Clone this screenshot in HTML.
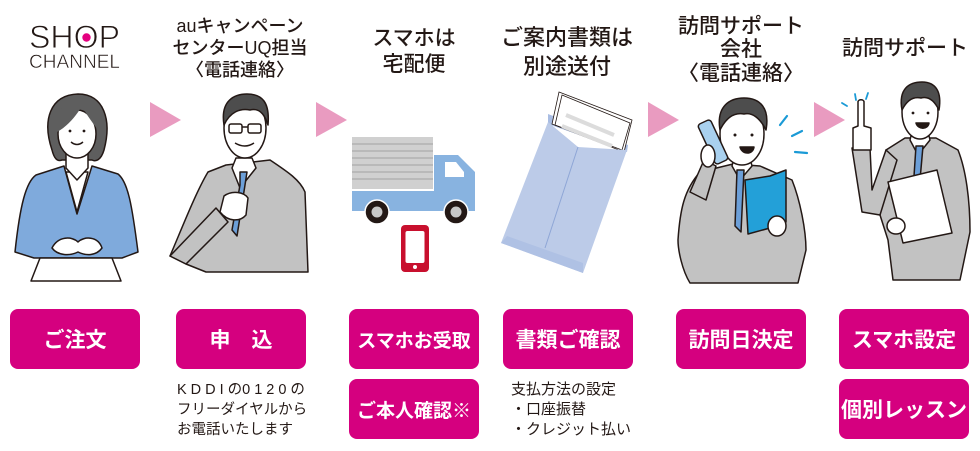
<!DOCTYPE html>
<html><head><meta charset="utf-8"><style>
html,body{margin:0;padding:0;background:#fff;}
body{width:980px;height:451px;position:relative;overflow:hidden;font-family:"Liberation Sans","Noto Sans CJK JP",sans-serif;color:#231815;}
.h{position:absolute;text-align:center;font-weight:500;white-space:nowrap;font-family:"Liberation Sans","Noto Sans CJK JP",sans-serif;}
.b{position:absolute;width:130px;height:60px;background:#d5007f;border-radius:8px;color:#fff;font-weight:bold;font-size:21px;display:flex;align-items:center;justify-content:center;white-space:nowrap;font-family:"Liberation Sans","Noto Sans CJK JP",sans-serif;}
.t{position:absolute;font-size:14.5px;line-height:20px;white-space:nowrap;font-family:"Liberation Sans","Noto Sans CJK JP",sans-serif;}
svg{position:absolute;left:0;top:0;}
</style></head><body>
<svg width="980" height="451" viewBox="0 0 980 451">
<!-- logo -->
<text x="29" y="48" font-family="Liberation Sans" font-size="32" fill="#231815" stroke="#fff" stroke-width="0.9" textLength="91" lengthAdjust="spacingAndGlyphs">SHOP</text>
<circle cx="86.5" cy="37.5" r="4.2" fill="#e4007f"/>
<text x="29" y="68" font-family="Liberation Sans" font-size="19" fill="#231815" stroke="#fff" stroke-width="0.5" textLength="91" lengthAdjust="spacingAndGlyphs">CHANNEL</text>

<!-- arrows -->
<g fill="#e99bc0">
<polygon points="150,102 181,120 150,137"/>
<polygon points="316,102 347,120 316,137"/>
<polygon points="648,102 679,120 648,137"/>
<polygon points="814,102 845,120 814,137"/>
</g>

<!-- woman -->
<g stroke="#231815" stroke-width="1.5" stroke-linejoin="round">
<path d="M52,150 C42,120 50,95 78,94 C104,94 112,120 104,150 C101,160 96,162 92,160 L62,160 C57,162 54,158 52,150Z" fill="#5e5e5e"/>
<path d="M36,175 L64,166 L77,214 L92,166 L118,174 C128,182 132,205 138,252 L122,258 L34,258 L15,252 C20,205 26,182 36,175Z" fill="#7faadc"/>
<path d="M66,172 L88,172 L77,212Z" fill="#fff"/>
<path d="M66,150 L66,168 L77,180 L88,168 L88,150Z" fill="#fff"/>
<ellipse cx="77" cy="134" rx="19" ry="24" fill="#fff"/>
<path d="M57,132 C55,110 66,100 78,100 C92,100 100,110 98,130 C92,122 86,114 82,106 C76,116 68,126 57,132Z" fill="#5e5e5e" stroke="none"/>
<path d="M40,258 L112,258 L121,281 L31,281Z" fill="#fff"/>
<path d="M52,248 C58,236 72,236 78,242 C84,236 98,236 102,248 C96,256 86,256 78,252 C70,256 58,256 52,248Z" fill="#fff"/>
<path d="M71,142 Q77,147 83,142" fill="none"/>
</g>
<circle cx="70" cy="131" r="1.4" fill="#231815"/><circle cx="84" cy="131" r="1.4" fill="#231815"/>

<!-- man 1 -->
<g stroke="#231815" stroke-width="1.5" stroke-linejoin="round">
<path d="M226,165 L208,172 C196,192 182,228 170,256 L186,264 L206,272 L308,272 L305,192 C300,180 288,172 270,160 Z" fill="#c2c2c2"/>
<path d="M232,168 L240,188 L256,168 L252,158 L236,158Z" fill="#fff"/>
<path d="M240,172 L247,172 L245,185 L237,236 L232,230 L240,185Z" fill="#6c9fd8"/>
<ellipse cx="245" cy="128" rx="21" ry="30" fill="#fff"/>
<path d="M224,125 C220,100 235,94 247,94 C262,94 270,102 268,125 C264,112 258,108 250,110 C240,108 230,112 224,125Z" fill="#4d4d4d"/>
<rect x="229" y="124" width="13" height="9" rx="2" fill="none"/>
<rect x="248" y="124" width="13" height="9" rx="2" fill="none"/>
<line x1="242" y1="127" x2="248" y2="127"/>
<path d="M235,143 Q245,149 254,143" fill="none"/>
<path d="M170,256 L186,264 L228,222 L216,208Z" fill="#c2c2c2"/>
<path d="M224,196 C232,190 244,192 248,198 L246,215 C240,222 228,222 220,212Z" fill="#fff"/>
</g>

<!-- truck -->
<rect x="352" y="137" width="81" height="52" fill="#d0d0d0"/>
<g fill="#b9b9b9">
<rect x="352" y="143" width="81" height="2"/><rect x="352" y="150" width="81" height="2"/><rect x="352" y="157" width="81" height="2"/><rect x="352" y="164" width="81" height="2"/><rect x="352" y="171" width="81" height="2"/><rect x="352" y="178" width="81" height="2"/>
</g>
<path d="M434,155 L458,155 L475,172 L475,211 L352,211 L352,191 L434,191Z" fill="#88b3e0"/>
<path d="M445,162 L456,162 L464,172 L464,177 L445,177Z" fill="#fff"/>
<circle cx="377" cy="212" r="12" fill="#231815" stroke="#fff" stroke-width="1.5"/>
<circle cx="377" cy="212" r="5.5" fill="#c8c8c8"/>
<circle cx="456" cy="212" r="12" fill="#231815" stroke="#fff" stroke-width="1.5"/>
<circle cx="456" cy="212" r="5.5" fill="#c8c8c8"/>
<rect x="401" y="225" width="28" height="47" rx="4" fill="#c8102e"/>
<rect x="405.5" y="231" width="19" height="32" rx="2" fill="#fff"/>
<circle cx="415" cy="267" r="2" fill="#fff"/>

<!-- envelope -->
<polygon points="548,114 628,145 627,152 548,124" fill="#a9bde3"/>
<polygon points="559,92 632,120 624,152 552,124" fill="#fff" stroke="#231815" stroke-width="0.8"/>
<polygon points="562,95 630,123 622,150 555,125" fill="#fff" stroke="#231815" stroke-width="0.8"/>
<line x1="566" y1="115" x2="614" y2="135" stroke="#dcdcdc" stroke-width="4"/>
<line x1="562" y1="126" x2="612" y2="146" stroke="#dcdcdc" stroke-width="4"/>
<polygon points="548,122 578,147 627,150 583,273 501,243" fill="#bccbe8"/>
<line x1="578" y1="147" x2="545" y2="248" stroke="#8ea6d6" stroke-width="1"/>
<polygon points="501,243 507,236 583,263 583,273" fill="#afc1e4"/>

<!-- man 2 -->
<g stroke="#231815" stroke-width="1.5" stroke-linejoin="round">
<path d="M700,172 L733,164 L760,166 L792,180 C800,200 806,230 806,250 L798,283 L690,283 C682,270 678,250 678,240 C680,210 684,190 700,172Z" fill="#c2c2c2"/>
<path d="M732,166 L740,180 L752,166 L750,158 L734,158Z" fill="#fff"/>
<path d="M737,170 L744,170 L741,232 L735,226Z" fill="#6c9fd8"/>
<ellipse cx="742" cy="134" rx="22" ry="31" fill="#fff"/>
<path d="M720,130 C716,106 730,98 744,98 C760,98 770,108 766,130 C760,118 752,112 744,114 C734,112 726,118 720,130Z" fill="#4d4d4d"/>
<path d="M740,147 L754,147 C753,155 742,155 740,147Z" fill="#231815"/>
<path d="M690,192 L704,160 L716,166 L706,200Z" fill="#c2c2c2"/>
<rect x="706" y="120" width="14" height="44" rx="3" transform="rotate(-25 713 142)" fill="#a9d1ef"/>
<ellipse cx="708" cy="156" rx="7" ry="11" fill="#fff"/>
<path d="M745,180 L770,176 L786,170 L786,222 L770,228 L748,234Z" fill="#23a0d8"/>
<ellipse cx="777" cy="226" rx="9" ry="10" fill="#fff"/>
</g>
<circle cx="735" cy="135" r="1.5" fill="#231815"/><circle cx="752" cy="135" r="1.5" fill="#231815"/>
<g stroke="#1a9ad6" stroke-width="2.2" stroke-linecap="round">
<line x1="780" y1="125" x2="787" y2="116"/>
<line x1="792" y1="136" x2="802" y2="131"/>
<line x1="795" y1="152" x2="807" y2="153"/>
</g>

<!-- man 3 -->
<g stroke="#231815" stroke-width="1.5" stroke-linejoin="round">
<path d="M886,150 L905,138 L936,138 L958,150 C966,170 970,200 970,232 L960,280 L893,280 L888,240 L880,215Z" fill="#c2c2c2"/>
<path d="M852,148 L870,148 L872,190 L886,150 L897,160 L880,215 L862,212Z" fill="#c2c2c2"/>
<path d="M910,140 L918,155 L930,140 L928,132 L912,132Z" fill="#fff"/>
<path d="M916,146 L923,146 L920,180 L914,176Z" fill="#6c9fd8"/>
<ellipse cx="920" cy="112" rx="18" ry="27" fill="#fff"/>
<path d="M902,110 C898,88 910,82 922,82 C936,82 942,92 939,110 C934,100 928,96 921,98 C912,96 906,102 902,110Z" fill="#4d4d4d"/>
<path d="M916,123 L929,123 C928,130 918,130 916,123Z" fill="#231815"/>
<path d="M853,128 L858,126 L858,102 C858,99 864,99 864,102 L864,126 L871,128 L871,150 L853,150Z" fill="#fff"/>
<polygon points="888,182 937,170 952,233 903,243" fill="#fff"/>
<ellipse cx="896" cy="226" rx="9" ry="8" fill="#fff"/>
</g>
<circle cx="913" cy="113" r="1.4" fill="#231815"/><circle cx="928" cy="113" r="1.4" fill="#231815"/>
<g stroke="#1a9ad6" stroke-width="1.8" stroke-linecap="round">
<line x1="842" y1="103" x2="847" y2="106"/>
<line x1="855" y1="94" x2="856" y2="100"/>
<line x1="868" y1="93" x2="866" y2="99"/>
</g>
</svg>

<!-- headers -->
<div class="h" style="left:160px;top:15px;width:160px;font-size:18px;line-height:22px;">auキャンペーン<br>センターUQ担当<br>〈電話連絡〉</div>
<div class="h" style="left:334px;top:26px;width:160px;font-size:21px;line-height:26px;">スマホは<br>宅配便</div>
<div class="h" style="left:487px;top:23px;width:160px;font-size:22px;line-height:29px;">ご案内書類は<br>別途送付</div>
<div class="h" style="left:661px;top:14.5px;width:160px;font-size:21px;line-height:23.5px;">訪問サポート<br>会社<br>〈電話連絡〉</div>
<div class="h" style="left:825px;top:36px;width:160px;font-size:21px;line-height:26px;">訪問サポート</div>

<!-- buttons -->
<div class="b" style="left:10px;top:309px;">ご注文</div>
<div class="b" style="left:176px;top:309px;">申　込</div>
<div class="b" style="left:349px;top:309px;font-size:19px;">スマホお受取</div>
<div class="b" style="left:349px;top:379px;font-size:19px;">ご本人確認※</div>
<div class="b" style="left:503px;top:309px;">書類ご確認</div>
<div class="b" style="left:676px;top:309px;">訪問日決定</div>
<div class="b" style="left:839px;top:309px;">スマホ設定</div>
<div class="b" style="left:839px;top:379px;">個別レッスン</div>

<!-- notes -->
<div class="t" style="left:177px;top:380px;"><span style="letter-spacing:4px">KDDI</span>の<span style="letter-spacing:4px">0120</span>の<br>フリーダイヤルから<br>お電話いたします</div>
<div class="t" style="left:511px;top:380px;font-size:15px;">支払方法の設定<br>・口座振替<br>・クレジット払い</div>
</body></html>
